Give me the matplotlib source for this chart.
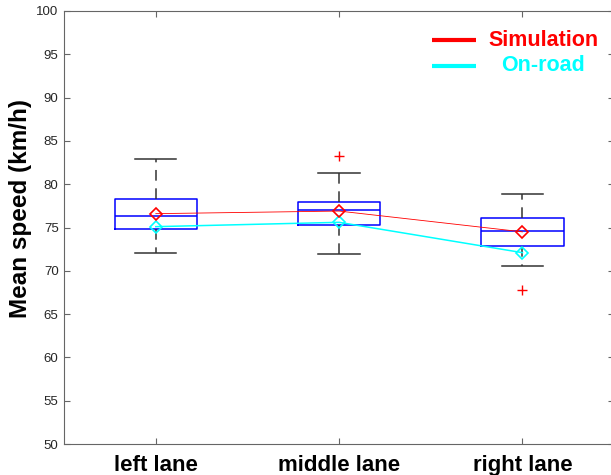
import matplotlib
matplotlib.use("Agg")
import matplotlib.pyplot as plt

categories = ["left lane", "middle lane", "right lane"]
whisker_low = [72.1, 71.9, 70.6]
q1 = [74.8, 75.3, 72.9]
median = [76.3, 77.0, 74.6]
q3 = [78.3, 78.0, 76.1]
whisker_high = [82.9, 81.3, 78.9]
outliers = [[], [83.2], [67.8]]
sim_mean = [76.6, 76.9, 74.5]
onroad_mean = [75.1, 75.6, 72.1]
series_names = ["Simulation", "On-road"]

plt.rcParams['font.family'] = ['Liberation Sans', 'DejaVu Sans']

fig = plt.figure(figsize=(6.11, 4.75), dpi=100)
ax = fig.add_axes([0.105, 0.065, 0.9, 0.912])

stats = []
for i, c in enumerate(categories):
    stats.append(dict(label=c, whislo=whisker_low[i], q1=q1[i], med=median[i],
                      q3=q3[i], whishi=whisker_high[i], fliers=outliers[i]))
pos = list(range(1, len(categories) + 1))
ax.bxp(stats, positions=pos, widths=0.45, capwidths=0.225, showfliers=True,
       boxprops=dict(color='#0000ff', linewidth=1.1),
       medianprops=dict(color='#0000ff', linewidth=1.1),
       whiskerprops=dict(color='#333333', linewidth=1.1, linestyle=(0, (7, 5))),
       capprops=dict(color='#333333', linewidth=1.1),
       flierprops=dict(marker='+', markeredgecolor='#ff0000', markersize=7,
                       markeredgewidth=1.0, linestyle='none'))

ax.plot(pos, sim_mean, color='#ff0000', lw=0.6, marker='D', markersize=6,
        markerfacecolor='none', markeredgecolor='#ff0000', markeredgewidth=1.2, zorder=5)
ax.plot(pos, onroad_mean, color='#00ffff', lw=1.1, marker='D', markersize=6,
        markerfacecolor='none', markeredgecolor='#00ffff', markeredgewidth=1.2, zorder=4)

ax.set_xlim(0.5, 3.5)
ax.set_ylim(50, 100)
ax.set_yticks(range(50, 101, 5))
ax.set_xticks(pos)
ax.set_xticklabels(categories, fontsize=16, fontweight='bold')
ax.set_ylabel("Mean speed (km/h)", fontsize=17.5, fontweight='bold')
ax.yaxis.set_label_coords(-0.058, 0.543)

for s in ax.spines.values():
    s.set_color('#666666')
    s.set_linewidth(0.8)
ax.tick_params(axis='y', direction='in', length=4, width=0.8, color='#666666',
               labelsize=9.5, labelcolor='#262626', pad=4, right=True)
ax.tick_params(axis='x', direction='in', length=4, width=0.8, color='#666666',
               pad=8, top=True)

# legend (MATLAB-style, colored centered text)
leg_colors = ['#ff0000', '#00ffff']
leg_y = [0.932, 0.874]
for name, col, yy in zip(series_names, leg_colors, leg_y):
    ax.plot([0.669, 0.749], [yy, yy], transform=ax.transAxes, color=col, lw=3,
            solid_capstyle='butt', clip_on=False)
    ax.text(0.871, yy, name, transform=ax.transAxes, color=col, fontsize=15.5,
            fontweight='bold', ha='center', va='center')

fig.savefig("out.png", dpi=100)
